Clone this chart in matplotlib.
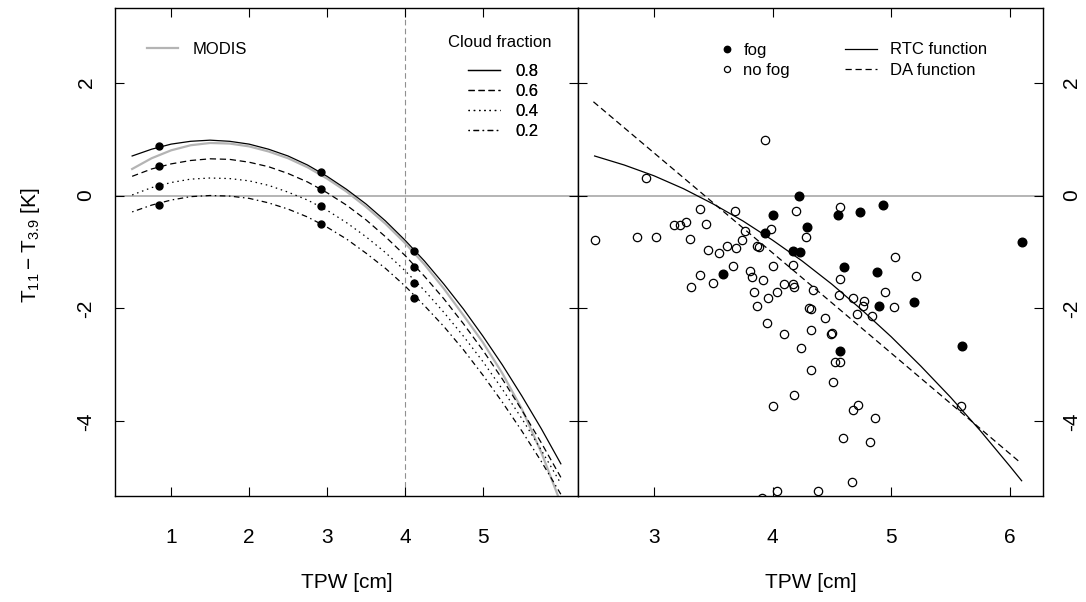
import matplotlib
matplotlib.use("Agg")
import matplotlib.pyplot as plt
from matplotlib.lines import Line2D

plt.rcParams['font.family'] = ['Liberation Sans', 'DejaVu Sans']
plt.rcParams['mathtext.fontset'] = 'custom'
plt.rcParams['mathtext.rm'] = 'Liberation Sans'
plt.rcParams['axes.unicode_minus'] = False

# ---------------- data: left panel ----------------
tpw_curve = [0.5, 0.75, 1.0, 1.25, 1.5, 1.75, 2.0, 2.25, 2.5, 2.75, 3.0, 3.25,
             3.5, 3.75, 4.0, 4.25, 4.5, 4.75, 5.0, 5.25, 5.5, 5.75, 6.0]
cf08 = [0.70, 0.82, 0.91, 0.96, 0.98, 0.96, 0.91, 0.82, 0.70, 0.54, 0.34, 0.11,
        -0.15, -0.45, -0.79, -1.16, -1.57, -2.01, -2.49, -3.00, -3.55, -4.13, -4.75]
cf06 = [0.34, 0.47, 0.56, 0.62, 0.65, 0.64, 0.59, 0.51, 0.39, 0.24, 0.05, -0.17,
        -0.43, -0.73, -1.06, -1.43, -1.83, -2.27, -2.74, -3.25, -3.80, -4.38, -4.99]
cf04 = [0.01, 0.14, 0.23, 0.29, 0.31, 0.30, 0.26, 0.18, 0.06, -0.08, -0.26, -0.48,
        -0.73, -1.01, -1.33, -1.68, -2.07, -2.49, -2.94, -3.43, -3.95, -4.51, -5.10]
cf02 = [-0.29, -0.17, -0.08, -0.02, 0.00, -0.01, -0.05, -0.13, -0.24, -0.38, -0.56, -0.77,
        -1.02, -1.29, -1.60, -1.95, -2.32, -2.73, -3.18, -3.66, -4.17, -4.71, -5.29]
modis = [0.47, 0.66, 0.80, 0.89, 0.93, 0.92, 0.87, 0.78, 0.66, 0.50, 0.30, 0.07,
         -0.20, -0.50, -0.84, -1.22, -1.65, -2.12, -2.60, -3.15, -3.78, -4.55, -5.45]
cloud_fractions = ['0.8', '0.6', '0.4', '0.2']

dot_tpw = [0.84, 2.92, 4.12]
dot08 = [0.87, 0.41, -0.99]
dot06 = [0.52, 0.11, -1.26]
dot04 = [0.17, -0.19, -1.54]
dot02 = [-0.16, -0.50, -1.81]
tpw_threshold = 4.0

# ---------------- data: right panel ----------------
nofog_tpw = [2.50, 2.86, 3.02, 3.17, 3.22, 3.27, 3.39, 3.44, 3.30, 3.46,
             3.55, 3.62, 3.69, 3.68, 3.74, 3.77, 3.67, 3.39, 3.31, 3.50,
             3.81, 3.83, 3.92, 3.84, 3.87, 3.96, 3.95, 3.87, 3.89, 3.99,
             4.00, 4.04, 4.10, 4.17, 4.18, 4.17, 4.20, 4.28, 4.34, 4.31,
             4.32, 4.32, 4.10, 4.24, 4.32, 4.18, 4.00, 4.44, 4.49, 4.50,
             4.51, 4.53, 4.57, 4.57, 4.56, 4.57, 4.68, 4.77, 4.76, 4.71,
             4.84, 4.95, 5.02, 5.03, 5.21, 4.72, 4.68, 4.86, 4.59, 4.82,
             5.59, 4.67, 4.38, 4.04, 3.91, 3.94, 2.93]
nofog_dt = [-0.78, -0.74, -0.74, -0.53, -0.53, -0.46, -0.23, -0.50, -0.77, -0.96,
            -1.01, -0.90, -0.93, -0.27, -0.78, -0.63, -1.25, -1.40, -1.62, -1.54,
            -1.33, -1.44, -1.49, -1.71, -1.95, -1.82, -2.26, -0.89, -0.91, -0.59,
            -1.25, -1.71, -1.57, -1.56, -1.62, -1.23, -0.28, -0.74, -1.67, -2.00,
            -2.01, -2.38, -2.45, -2.70, -3.09, -3.53, -3.73, -2.16, -2.46, -2.43,
            -3.31, -2.94, -2.94, -1.48, -1.77, -0.20, -1.82, -1.87, -1.96, -2.10,
            -2.13, -1.70, -1.97, -1.08, -1.43, -3.70, -3.79, -3.94, -4.29, -4.37,
            -3.73, -5.07, -5.23, -5.23, -5.35, 0.99, 0.31]
fog_tpw = [3.58, 3.94, 4.00, 4.22, 4.29, 4.17, 4.23, 4.55, 4.74, 4.93,
           4.60, 4.88, 4.90, 5.19, 4.57, 5.60, 6.10]
fog_dt = [-1.39, -0.67, -0.35, -0.01, -0.56, -0.98, -1.00, -0.34, -0.30, -0.16,
          -1.27, -1.36, -1.96, -1.88, -2.75, -2.67, -0.82]

rtc_tpw = [2.5, 2.75, 3.0, 3.25, 3.5, 3.75, 4.0, 4.25, 4.5, 4.75, 5.0, 5.25,
           5.5, 5.75, 6.0, 6.1]
rtc_dt = [0.70, 0.54, 0.35, 0.12, -0.15, -0.45, -0.79, -1.16, -1.57, -2.02,
          -2.50, -3.02, -3.57, -4.16, -4.79, -5.05]
da_tpw = [2.49, 3.5, 4.5, 5.5, 6.09]
da_dt = [1.66, -0.13, -1.90, -3.68, -4.73]

# ---------------- styles ----------------
W, H = 1086, 602
DASH = (0, (5, 3))
DOT = (0, (1.2, 3.0))
DASHDOT = (0, (1.2, 2.8, 4.5, 2.8))
GRAY = '#b4b4b4'
ZERO = '#a0a0a0'

fig = plt.figure(figsize=(W / 100, H / 100), dpi=100)
bot = (H - 496) / H
hgt = 488 / H
ax1 = fig.add_axes([115 / W, bot, 463 / W, hgt])
ax2 = fig.add_axes([578 / W, bot, 465 / W, hgt])

# left panel
ax1.axhline(0, color=ZERO, lw=1.1, zorder=1)
ax1.axvline(tpw_threshold, color='#909090', lw=0.8, ls=DASH, zorder=1)
ax1.plot(tpw_curve, modis, color=GRAY, lw=1.6, zorder=2)
styles = ['-', DASH, DOT, DASHDOT]
for ys, ls in zip([cf08, cf06, cf04, cf02], styles):
    ax1.plot(tpw_curve, ys, color='black', lw=0.9, ls=ls, zorder=3)
for ds in [dot08, dot06, dot04, dot02]:
    ax1.plot(dot_tpw, ds, 'o', color='black', ms=5, zorder=4)
ax1.set_xlim(0.28, 6.22)
ax1.set_ylim(-5.32, 3.32)
ax1.set_xticks([1, 2, 3, 4, 5])

# right panel
ax2.axhline(0, color=ZERO, lw=1.1, zorder=1)
ax2.plot(rtc_tpw, rtc_dt, color='black', lw=0.9, zorder=2)
ax2.plot(da_tpw, da_dt, color='black', lw=0.9, ls=DASH, zorder=2)
ax2.plot(nofog_tpw, nofog_dt, 'o', mfc='none', mec='black', mew=0.9, ms=6, zorder=3)
ax2.plot(fog_tpw, fog_dt, 'o', color='black', ms=6.2, zorder=4)
ax2.set_xlim(2.36, 6.28)
ax2.set_ylim(-5.32, 3.32)
ax2.set_xticks([3, 4, 5, 6])

for ax in (ax1, ax2):
    for s in ax.spines.values():
        s.set_linewidth(1.0)
    ax.set_yticks([-4, -2, 0, 2])
    ax.set_yticklabels(['-4', '-2', '0', '2'])
    ax.tick_params(axis='both', direction='in', length=6.5, width=0.8,
                   labelsize=15, top=True, bottom=True, left=True, right=True)
    ax.tick_params(axis='x', pad=23)
    ax.tick_params(axis='y', labelrotation=90, pad=14)
    ax.set_xlabel('TPW [cm]', fontsize=15, labelpad=19)

ax1.tick_params(axis='y', labelleft=True, labelright=False)
ax2.tick_params(axis='y', labelleft=False, labelright=True)
for lbl in ax1.get_yticklabels():
    lbl.set_va('center')
for lbl in ax2.get_yticklabels():
    lbl.set_va('center')

fig.text(30 / W, 1 - 245 / H, r'$\mathregular{T_{11} - T_{3.9}}$ [K]', rotation=90,
         ha='center', va='center', fontsize=15)

# legends
LFS = 12
def fig_anchor(x, y):
    return (x / W, 1 - y / H)

leg1 = ax1.legend([Line2D([], [], color=GRAY, lw=1.6)], ['MODIS'],
                  loc='upper left', bbox_to_anchor=fig_anchor(146.7, 41.5),
                  bbox_transform=fig.transFigure, frameon=False, fontsize=LFS,
                  borderpad=0, borderaxespad=0, handlelength=1.9, handletextpad=0.88)
ax1.add_artist(leg1)
cf_handles = [Line2D([], [], color='black', lw=0.9, ls=ls) for ls in styles]
leg2 = ax1.legend(cf_handles, cloud_fractions,
                  loc='upper left', bbox_to_anchor=fig_anchor(468, 63.5),
                  bbox_transform=fig.transFigure, frameon=False, fontsize=LFS,
                  borderpad=0, borderaxespad=0, handlelength=1.92, handletextpad=0.9,
                  labelspacing=0.3)
ax1.add_artist(leg2)
fig.text(500 / W, 1 - 42.7 / H, 'Cloud fraction', ha='center', va='center', fontsize=LFS)

pt_handles = [Line2D([], [], ls='none', marker='o', color='black', ms=4.6),
              Line2D([], [], ls='none', marker='o', mfc='none', mec='black', mew=0.9, ms=4.4)]
leg3 = ax2.legend(pt_handles, ['fog', 'no fog'],
                  loc='upper left', bbox_to_anchor=fig_anchor(718.4, 42.5),
                  bbox_transform=fig.transFigure, frameon=False, fontsize=LFS,
                  borderpad=0, borderaxespad=0, handlelength=1.0, handletextpad=0.5,
                  labelspacing=0.32)
ax2.add_artist(leg3)
ln_handles = [Line2D([], [], color='black', lw=0.9),
              Line2D([], [], color='black', lw=0.9, ls=DASH)]
leg4 = ax2.legend(ln_handles, ['RTC function', 'DA function'],
                  loc='upper left', bbox_to_anchor=fig_anchor(845, 42.5),
                  bbox_transform=fig.transFigure, frameon=False, fontsize=LFS,
                  borderpad=0, borderaxespad=0, handlelength=1.9, handletextpad=0.8,
                  labelspacing=0.32)

fig.savefig('out.png', dpi=100)
